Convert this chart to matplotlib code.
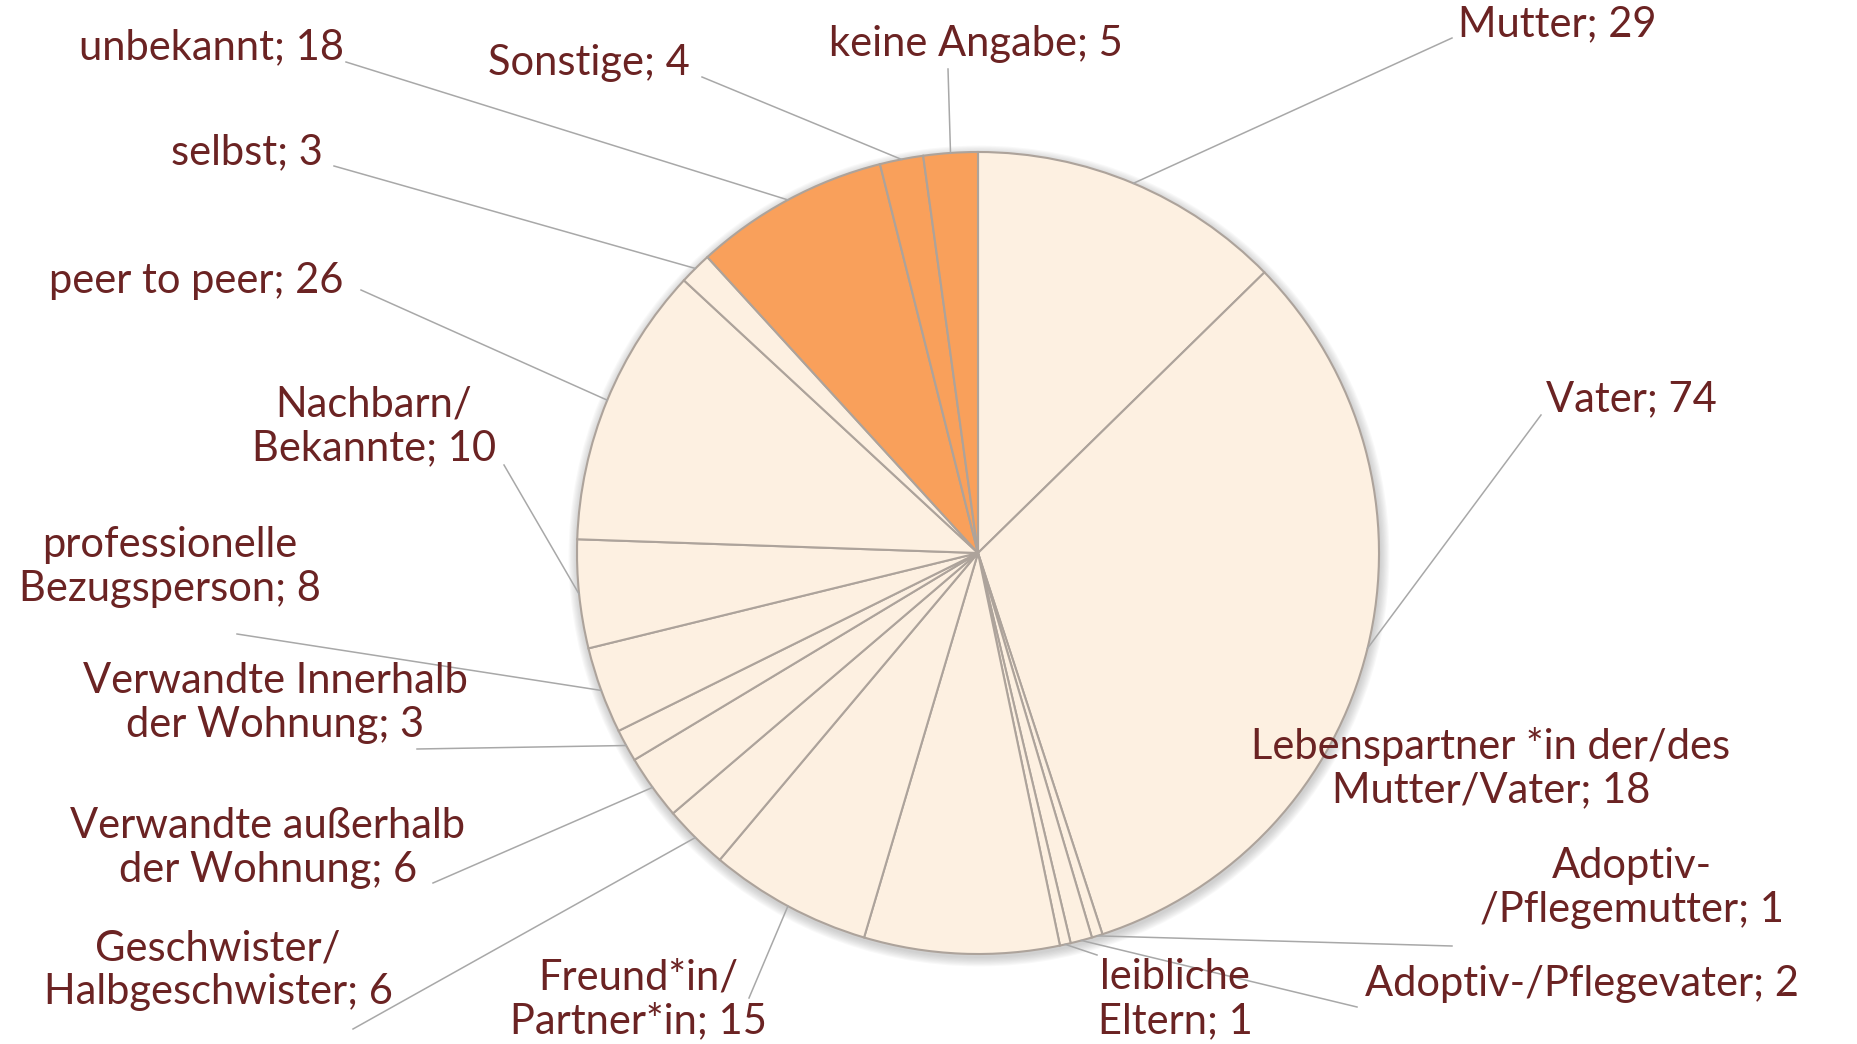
import matplotlib
matplotlib.use("Agg")
import matplotlib.pyplot as plt
import numpy as np
from matplotlib.patches import Circle

W, H = 1858, 1044

categories = [
    "Mutter", "Vater", "Adoptiv-\n/Pflegemutter", "Adoptiv-/Pflegevater",
    "leibliche\nEltern", "Lebenspartner *in der/des\nMutter/Vater",
    "Freund*in/\nPartner*in", "Geschwister/\nHalbgeschwister",
    "Verwandte außerhalb\nder Wohnung", "Verwandte Innerhalb\nder Wohnung",
    "professionelle\nBezugsperson", "Nachbarn/\nBekannte", "peer to peer",
    "selbst", "unbekannt", "Sonstige", "keine Angabe",
]
values = [29, 74, 1, 2, 1, 18, 15, 6, 6, 3, 8, 10, 26, 3, 18, 4, 5]
highlight = [False] * 14 + [True, True, True]

CREAM = "#FDF0E1"
ORANGE = "#F9A05B"
TEXT = "#6B2323"
LEADER = "#A8A8A8"

# layout (pixel coords, y downward): label position, alignment, leader start
label_layout = [
    ((1458, 24), "left", (1452, 38)),
    ((1546, 399), "left", (1541, 415)),
    ((1632, 888), "center", (1452, 946)),
    ((1365, 984), "left", (1357, 1007)),
    ((1175, 999), "center", (1097, 955)),
    ((1491, 768), "center", None),
    ((638, 999), "center", (749, 998)),
    ((218, 970), "center", (353, 1029)),
    ((268, 848), "center", (433, 883)),
    ((275, 703), "center", (417, 749)),
    ((170, 567), "center", (237, 634)),
    ((374, 426), "center", (504, 465)),
    ((196, 281), "center", (361, 290)),
    ((247, 152), "center", (334, 166)),
    ((212, 47), "center", (346, 62)),
    ((589, 63), "center", (702, 77)),
    ((976, 44), "center", (948, 69)),
]

plt.rcParams['font.family'] = ['Lato', 'DejaVu Sans']

fig = plt.figure(figsize=(W / 100, H / 100), dpi=100)
fig.patch.set_facecolor("white")
ax = fig.add_axes([0, 0, 1, 1])

cx, cy_px, R = 978, 553, 401
cy = H - cy_px

# soft shadow
for i in range(8):
    ax.add_patch(Circle((cx + 1, cy - 3), R + 1 + i * 1.2, facecolor="#808080",
                        edgecolor="none", alpha=0.05, zorder=1))

colors = [ORANGE if h else CREAM for h in highlight]
wedges, _ = ax.pie(values, colors=colors, startangle=90, counterclock=False,
                   center=(cx, cy), radius=R, frame=True,
                   wedgeprops=dict(edgecolor="#ADA39B", linewidth=1.5))
for w in wedges:
    w.set_zorder(2)
ax.set_xlim(0, W)
ax.set_ylim(0, H)
ax.set_aspect("equal")
ax.axis("off")

for w, cat, val, (pos, ha, lead) in zip(wedges, categories, values, label_layout):
    lx, ly = pos
    ax.text(lx, H - ly, f"{cat}; {val}", ha=ha, va="center", color=TEXT,
            fontsize=30, linespacing=1.18, zorder=5, multialignment="center")
    if lead is not None:
        mid = np.deg2rad((w.theta1 + w.theta2) / 2)
        ex, ey = cx + R * np.cos(mid), cy + R * np.sin(mid)
        ax.plot([lead[0], ex], [H - lead[1], ey], color=LEADER, lw=1.1, zorder=3)

fig.savefig("out.png", dpi=100, facecolor="white")
